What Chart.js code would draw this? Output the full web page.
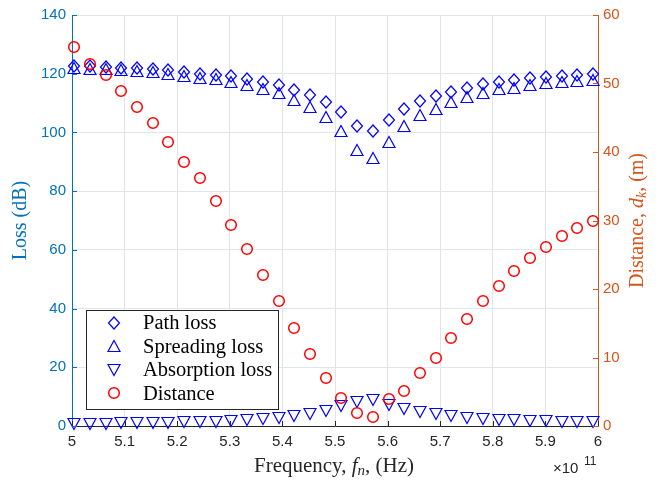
<!DOCTYPE html>
<html><head><meta charset="utf-8">
<script src="https://cdn.jsdelivr.net/npm/chart.js@4.4.1/dist/chart.umd.min.js"></script>
<style>html,body{margin:0;padding:0;background:#fff;overflow:hidden;}</style>
</head><body>
<canvas id="c" width="657" height="481" style="width:657px;height:481px;display:block"></canvas>
<script>
// ---- data (frequency in units of 1e11 Hz) ----
const freq = [5.004,5.034,5.064,5.094,5.124,5.154,5.183,5.213,5.243,5.273,5.303,5.333,5.363,5.393,5.423,5.452,5.482,5.512,5.542,5.572,5.602,5.632,5.662,5.692,5.721,5.751,5.781,5.811,5.841,5.871,5.901,5.931,5.961,5.991];
const pathLoss = [122.7,122.6,122.4,122.1,121.9,121.5,121.1,120.6,120.0,119.7,119.2,118.2,117.3,116.3,114.6,112.9,110.3,106.9,102.2,100.4,104.3,108.0,110.8,112.5,113.9,115.3,116.4,117.3,117.8,118.4,118.8,119.2,119.5,119.8];
const spreadingLoss = [121.9,121.7,121.5,121.3,121.0,120.5,120.0,119.3,118.6,118.2,117.3,116.0,114.8,113.5,111.2,108.6,105.2,100.4,94.0,91.4,96.9,102.1,105.9,108.0,110.4,111.9,113.4,114.8,115.3,116.1,116.8,117.2,117.6,117.9];
const absorptionLoss = [0.8,0.8,0.85,0.9,1.0,1.0,1.1,1.25,1.35,1.5,1.7,2.0,2.3,2.6,3.5,4.2,5.0,6.7,8.1,8.7,7.2,5.7,4.6,4.0,3.3,2.8,2.5,2.2,2.0,1.8,1.6,1.5,1.4,1.25];
const distance = [55.4,52.9,51.2,48.9,46.6,44.2,41.5,38.5,36.2,32.8,29.35,25.8,22.0,18.2,14.3,10.5,7.03,4.05,1.9,1.31,3.88,5.04,7.8,9.98,12.9,15.6,18.2,20.5,22.6,24.55,26.2,27.7,28.9,29.9];
const xTicks = [5,5.1,5.2,5.3,5.4,5.5,5.6,5.7,5.8,5.9,6];
const xTickLabels = ['5','5.1','5.2','5.3','5.4','5.5','5.6','5.7','5.8','5.9','6'];
const lossTicks = [0,20,40,60,80,100,120,140];
const distTicks = [0,10,20,30,40,50,60];
const seriesLabels = ['Path loss','Spreading loss','Absorption loss','Distance'];

const BLUE_AX = '#0072BD', ORANGE_AX = '#D95319', DARK = '#262626';
const SERIF = '"Liberation Serif","DejaVu Serif",serif';
const SANS = '"Liberation Sans","DejaVu Sans",sans-serif';

function makeMarker(type, color, lw) {
  const c = document.createElement('canvas');
  c.width = 16; c.height = 16;
  const g = c.getContext('2d');
  g.strokeStyle = color; g.lineWidth = lw;
  g.beginPath();
  const m = 8;
  if (type === 'diamond') {
    g.moveTo(m, m - 6); g.lineTo(m + 5.5, m); g.lineTo(m, m + 6); g.lineTo(m - 5.5, m); g.closePath();
  } else if (type === 'up') {
    g.moveTo(m, m - 5.5); g.lineTo(m + 6, m + 5.5); g.lineTo(m - 6, m + 5.5); g.closePath();
  } else if (type === 'down') {
    g.moveTo(m, m + 5.5); g.lineTo(m + 6, m - 5.5); g.lineTo(m - 6, m - 5.5); g.closePath();
  } else {
    g.arc(m, m, 5.3, 0, Math.PI * 2);
  }
  g.stroke();
  return c;
}
const mk = {
  diamond: makeMarker('diamond', '#0000FF', 1.2),
  up: makeMarker('up', '#0000FF', 1.2),
  down: makeMarker('down', '#0000FF', 1.2),
  circle: makeMarker('circle', '#FF0000', 1.5)
};

function pts(ys) { return freq.map((f, i) => ({x: f, y: ys[i]})); }

function drawRuns(ctx, runs, x, y) {
  let total = 0;
  runs.forEach(r => { ctx.font = r.font; r.w = ctx.measureText(r.t).width; total += r.w; });
  let cx = x - total / 2;
  runs.forEach(r => { ctx.font = r.font; ctx.fillText(r.t, cx, y + (r.dy || 0)); cx += r.w; });
}

const extras = {
  id: 'extras',
  beforeDatasetsDraw(chart) { chart.ctx.save(); chart.ctx.imageSmoothingEnabled = false; },
  afterDatasetsDraw(chart) { chart.ctx.restore(); },
  afterDraw(chart) {
    const ctx = chart.ctx, a = chart.chartArea;
    const sx = chart.scales.x, sy = chart.scales.y, sy2 = chart.scales.y2;
    ctx.save();
    ctx.lineWidth = 1;
    ctx.strokeStyle = DARK;
    xTicks.forEach(v => { const px = Math.round(sx.getPixelForValue(v)) + 0.5; ctx.beginPath(); ctx.moveTo(px, a.bottom); ctx.lineTo(px, a.bottom - 5); ctx.stroke(); });
    ctx.strokeStyle = BLUE_AX;
    lossTicks.forEach(v => { const py = Math.round(sy.getPixelForValue(v)) + 0.5; ctx.beginPath(); ctx.moveTo(a.left, py); ctx.lineTo(a.left + 5, py); ctx.stroke(); });
    ctx.strokeStyle = ORANGE_AX;
    distTicks.forEach(v => { const py = Math.round(sy2.getPixelForValue(v)) + 0.5; ctx.beginPath(); ctx.moveTo(a.right, py); ctx.lineTo(a.right - 5, py); ctx.stroke(); });

    ctx.textBaseline = 'alphabetic';
    ctx.textAlign = 'left';
    ctx.fillStyle = DARK;
    drawRuns(ctx, [
      {t: 'Frequency, ', font: '21px ' + SERIF},
      {t: 'f', font: 'italic 21px ' + SERIF},
      {t: 'n', font: 'italic 15px ' + SERIF, dy: 3},
      {t: ', (Hz)', font: '21px ' + SERIF}
    ], 334, 472);
    ctx.font = '15px ' + SANS;
    ctx.fillText('\u00d710', 553, 473);
    ctx.font = '12px ' + SANS;
    ctx.fillText('11', 584, 465);
    ctx.save();
    ctx.translate(26, (a.top + a.bottom) / 2);
    ctx.rotate(-Math.PI / 2);
    ctx.fillStyle = BLUE_AX;
    drawRuns(ctx, [{t: 'Loss (dB)', font: '20px ' + SERIF}], 0, 0);
    ctx.restore();
    ctx.save();
    ctx.translate(643, (a.top + a.bottom) / 2);
    ctx.rotate(-Math.PI / 2);
    ctx.fillStyle = ORANGE_AX;
    drawRuns(ctx, [
      {t: 'Distance, ', font: '20px ' + SERIF},
      {t: 'd', font: 'italic 20px ' + SERIF},
      {t: 'k', font: 'italic 14px ' + SERIF, dy: 3},
      {t: ', (m)', font: '20px ' + SERIF}
    ], 0, 0);
    ctx.restore();

    const lx = 86, ly = 310, lw = 192, lh = 99;
    ctx.fillStyle = '#fff';
    ctx.fillRect(lx, ly, lw, lh);
    ctx.strokeStyle = DARK; ctx.lineWidth = 1;
    ctx.strokeRect(lx + 0.5, ly + 0.5, lw, lh);
    const icons = [mk.diamond, mk.up, mk.down, mk.circle];
    ctx.fillStyle = '#000';
    ctx.font = '20.5px ' + SERIF;
    ctx.textBaseline = 'middle';
    seriesLabels.forEach((lab, i) => {
      const yy = 322.7 + i * 23.5;
      ctx.drawImage(icons[i], 106, Math.round(yy - 8));
      ctx.fillText(lab, 143, yy + 1);
    });
    ctx.restore();
  }
};

const ds = (label, data, icon, axis, order) => ({
  label, data: pts(data), yAxisID: axis, showLine: false, order,
  pointStyle: icon, pointRadius: 6, pointHoverRadius: 6, borderWidth: 0, clip: false
});

new Chart(document.getElementById('c'), {
  type: 'scatter',
  data: {
    datasets: [
      ds(seriesLabels[0], pathLoss, mk.diamond, 'y', 3),
      ds(seriesLabels[1], spreadingLoss, mk.up, 'y', 2),
      ds(seriesLabels[2], absorptionLoss, mk.down, 'y', 1),
      ds(seriesLabels[3], distance, mk.circle, 'y2', 0)
    ]
  },
  options: {
    responsive: false, animation: false, devicePixelRatio: 1,
    layout: {padding: {top: 13, left: 0, right: 0, bottom: 0}},
    plugins: {legend: {display: false}, tooltip: {enabled: false}},
    scales: {
      x: {
        type: 'linear', min: 5, max: 6,
        afterBuildTicks(s) { s.ticks = xTicks.map(v => ({value: v})); },
        afterFit(s) { s.height = 55; },
        ticks: {callback: (v, i) => xTickLabels[i], color: DARK, font: {family: SANS, size: 15}, padding: 7, maxRotation: 0, autoSkip: false},
        grid: {color: '#e3e3e3', drawTicks: false},
        border: {color: DARK, width: 1}
      },
      y: {
        type: 'linear', position: 'left', min: 0, max: 140,
        afterBuildTicks(s) { s.ticks = lossTicks.map(v => ({value: v})); },
        afterFit(s) { s.width = 72; },
        ticks: {color: BLUE_AX, font: {family: SANS, size: 15}, padding: 6},
        grid: {color: '#dde8f2', drawTicks: false},
        border: {color: BLUE_AX, width: 1}
      },
      y2: {
        type: 'linear', position: 'right', min: 0, max: 60,
        afterBuildTicks(s) { s.ticks = distTicks.map(v => ({value: v})); },
        afterFit(s) { s.width = 59; },
        ticks: {color: ORANGE_AX, font: {family: SANS, size: 15}, padding: 5},
        grid: {display: false, drawTicks: false},
        border: {color: ORANGE_AX, width: 1}
      }
    }
  },
  plugins: [extras]
});
</script>
</body></html>
